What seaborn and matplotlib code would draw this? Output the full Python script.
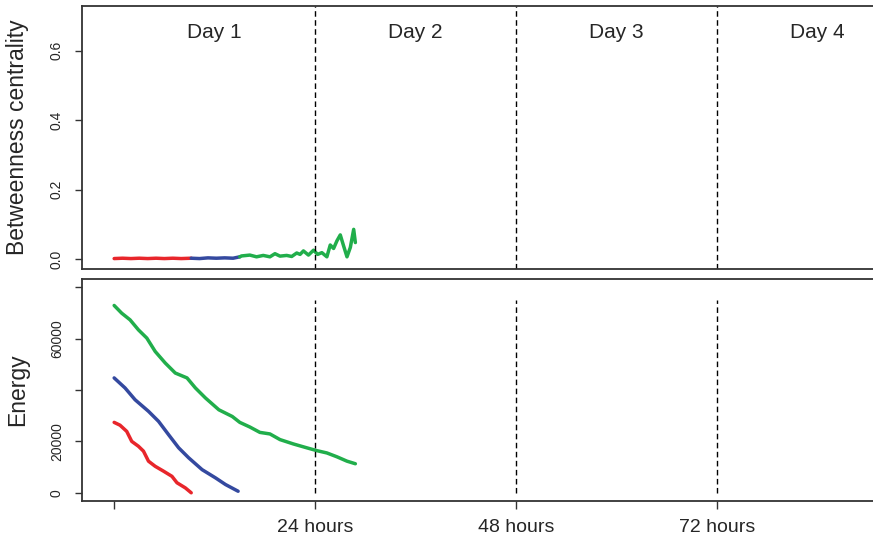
import numpy as np
import pandas as pd
import matplotlib
matplotlib.use("Agg")
import matplotlib.pyplot as plt
import seaborn as sns

# ---- data -------------------------------------------------------------
# Betweenness centrality over time (hours)
bc_red_h = [0.0, 1.0, 2.0, 3.0, 4.0, 5.0, 6.0, 7.0, 8.0, 9.2]
bc_red_v = [0.002, 0.003, 0.002, 0.003, 0.002, 0.003, 0.002, 0.003, 0.002, 0.003]
bc_blue_h = [9.2, 10.2, 11.2, 12.2, 13.2, 14.2, 15.0]
bc_blue_v = [0.003, 0.002, 0.004, 0.003, 0.004, 0.003, 0.007]
bc_green_h = [15.0, 15.2, 16.2, 17.0, 17.8, 18.6, 19.2, 19.8, 20.6, 21.2, 21.8,
              22.2, 22.6, 23.2, 23.8, 24.3, 24.8, 25.4, 25.8, 26.2, 26.6, 27.0,
              27.4, 27.8, 28.2, 28.6, 28.8]
bc_green_v = [0.007, 0.0095, 0.012, 0.007, 0.011, 0.007, 0.016, 0.009, 0.011,
              0.008, 0.018, 0.014, 0.024, 0.012, 0.026, 0.014, 0.019, 0.007,
              0.041, 0.031, 0.053, 0.070, 0.038, 0.007, 0.034, 0.086, 0.048]

# Remaining energy over time (hours)
en_red_h = [0.0, 0.7, 1.5, 2.1, 2.9, 3.5, 4.1, 4.9, 5.9, 6.9, 7.5, 8.5, 9.2]
en_red_v = [27400, 26300, 23900, 20000, 18100, 16200, 12300, 10300, 8400,
            6400, 3900, 1900, 0]
en_blue_h = [0.0, 1.3, 2.5, 4.1, 5.3, 6.5, 7.7, 8.9, 10.5, 12.1, 13.3, 14.8]
en_blue_v = [44700, 40800, 36200, 31700, 27800, 22600, 17500, 13600, 9000,
             5800, 3200, 600]
en_green_h = [0.0, 0.9, 1.9, 2.9, 3.9, 4.9, 6.1, 7.3, 8.7, 9.7, 10.9, 12.5,
              14.1, 15.0, 16.2, 17.4, 18.6, 19.8, 21.4, 23.0, 24.2, 25.4,
              26.6, 27.8, 28.8]
en_green_v = [72900, 69900, 67300, 63400, 60200, 55000, 50500, 46600, 44700,
              40800, 36900, 32300, 29700, 27400, 25600, 23500, 22900, 20700,
              19000, 17500, 16400, 15500, 14000, 12300, 11300]

day_labels = ["Day 1", "Day 2", "Day 3", "Day 4"]
day_centres = [12, 36, 60, 84]
day_bounds = [24, 48, 72]
x_ticks = [0, 24, 48, 72]
x_ticklabels = ["", "24 hours", "48 hours", "72 hours"]
bc_ticks = [0.0, 0.2, 0.4, 0.6]
bc_ticklabels = ["0.0", "0.2", "0.4", "0.6"]
en_ticks = [0, 20000, 40000, 60000, 80000]
en_ticklabels = ["0", "20000", "", "60000", ""]

colors = {"red": "#e8262b", "blue": "#34499f", "green": "#21ae4b"}

bc_df = pd.concat([
    pd.DataFrame({"hour": bc_red_h, "value": bc_red_v, "node": "red"}),
    pd.DataFrame({"hour": bc_blue_h, "value": bc_blue_v, "node": "blue"}),
    pd.DataFrame({"hour": bc_green_h, "value": bc_green_v, "node": "green"}),
], ignore_index=True)
en_df = pd.concat([
    pd.DataFrame({"hour": en_red_h, "value": en_red_v, "node": "red"}),
    pd.DataFrame({"hour": en_blue_h, "value": en_blue_v, "node": "blue"}),
    pd.DataFrame({"hour": en_green_h, "value": en_green_v, "node": "green"}),
], ignore_index=True)

# ---- figure -----------------------------------------------------------
sns.set_style("white")
plt.rcParams["font.family"] = ["Liberation Sans", "DejaVu Sans"]

W, H = 873, 539
fig = plt.figure(figsize=(W / 100, H / 100), dpi=100)

x_lo, x_hi = 0, 96
pad = 0.04 * (x_hi - x_lo)
xlim = (x_lo - pad, x_hi + pad)
px_per_h = 8.375
left_px = 82
width_px = (xlim[1] - xlim[0]) * px_per_h

ax1 = fig.add_axes([left_px / W, (H - 269) / H, width_px / W, (269 - 6) / H])
ax2 = fig.add_axes([left_px / W, (H - 501) / H, width_px / W, (501 - 279) / H])

frame_col = "#333333"
for ax in (ax1, ax2):
    for sp in ax.spines.values():
        sp.set_color(frame_col)
        sp.set_linewidth(1.3)
    ax.set_xlim(*xlim)

lw = 2.5
sns.lineplot(data=bc_df, x="hour", y="value", hue="node", palette=colors,
             ax=ax1, linewidth=lw, legend=False, sort=False, estimator=None)
sns.lineplot(data=en_df, x="hour", y="value", hue="node", palette=colors,
             ax=ax2, linewidth=lw, legend=False, sort=False, estimator=None)

dash = (0, (4, 2.5))

# top panel
ax1.set_ylim(-0.028, 0.728)
ax1.set_yticks(bc_ticks)
ax1.set_yticklabels(bc_ticklabels, rotation=90, va="center")
ax1.set_xticks([])
ax1.set_xlabel("")
ax1.set_ylabel("Betweenness centrality", fontsize=16.5, labelpad=15)
for b in day_bounds:
    ax1.axvline(b, color="black", linestyle=dash, linewidth=1.0)
for c, lab in zip(day_centres, day_labels):
    ax1.text(c, 0.651, lab, ha="center", va="center", fontsize=15)

# bottom panel
ax2.set_ylim(-3200, 83200)
ax2.set_yticks(en_ticks)
ax2.set_yticklabels(en_ticklabels, rotation=90, va="center")
ax2.set_xticks(x_ticks)
ax2.set_xticklabels(x_ticklabels, fontsize=14)
ax2.set_xlabel("")
ax2.set_ylabel("Energy", fontsize=16.5, labelpad=15)
ax2.vlines(day_bounds, 0, 75000, color="black", linestyle=dash, linewidth=1.0)

for ax in (ax1, ax2):
    ax.tick_params(axis="y", which="both", left=True, length=5, width=1.0,
                   color=frame_col, labelsize=10, pad=8)
ax2.tick_params(axis="x", bottom=True, length=6, width=1.0, color=frame_col,
                pad=7)

fig.savefig("out.png", dpi=100)
